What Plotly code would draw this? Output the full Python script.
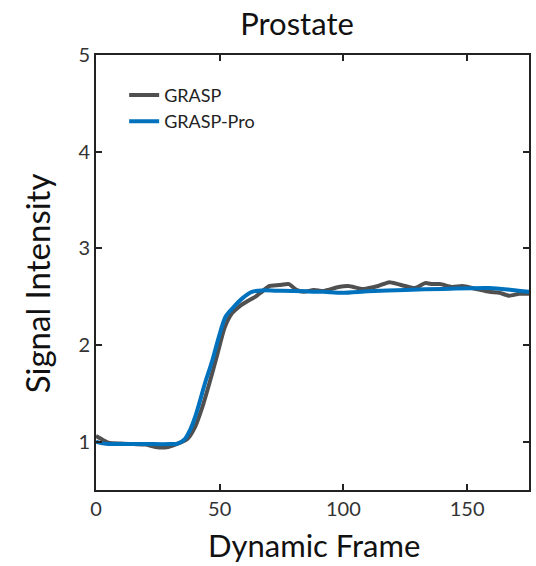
import plotly.graph_objects as go

# GRASP (gray) curve
grasp_x = [0, 2, 5, 10, 15, 20, 24, 28, 31, 34, 37, 40, 43, 46, 49, 52, 55, 58, 61, 64.5, 67, 70, 74, 78, 81, 84, 88, 92, 98, 102, 108, 114, 118.5, 122, 125, 129, 133, 136, 139, 144, 148, 153.6, 159, 163, 167, 171, 175]
grasp_y = [1.06, 1.03, 0.99, 0.98, 0.975, 0.97, 0.945, 0.94, 0.96, 0.99, 1.03, 1.15, 1.36, 1.62, 1.9, 2.18, 2.33, 2.4, 2.45, 2.5, 2.55, 2.61, 2.62, 2.63, 2.57, 2.55, 2.57, 2.56, 2.6, 2.61, 2.58, 2.61, 2.65, 2.63, 2.61, 2.59, 2.64, 2.63, 2.63, 2.6, 2.61, 2.58, 2.55, 2.54, 2.51, 2.53, 2.53]

# GRASP-Pro (blue) curve
pro_x = [0, 2, 5, 10, 20, 30, 33, 36, 38, 40, 42, 44, 47, 49.6, 52.3, 55, 59, 63, 67, 75, 85, 92, 99.5, 110, 125, 140, 159, 168, 175]
pro_y = [1.0, 0.985, 0.976, 0.975, 0.975, 0.975, 0.98, 1.03, 1.12, 1.25, 1.42, 1.6, 1.84, 2.08, 2.29, 2.375, 2.48, 2.55, 2.565, 2.56, 2.555, 2.55, 2.54, 2.555, 2.57, 2.58, 2.59, 2.57, 2.55]

x_ticks = [0, 50, 100, 150]
y_ticks = [1, 2, 3, 4, 5]

FONT = "Lato"
W, H = 536, 566

fig = go.Figure()
fig.add_trace(go.Scatter(x=grasp_x, y=grasp_y, mode="lines", name="GRASP",
                         line=dict(color="#505050", width=4, shape="spline", smoothing=0.6)))
fig.add_trace(go.Scatter(x=pro_x, y=pro_y, mode="lines", name="GRASP-Pro",
                         line=dict(color="#0072BD", width=4, shape="spline", smoothing=0.8)))

axis_common = dict(showline=True, linecolor="#222222", linewidth=2, mirror="ticks",
                   ticks="inside", ticklen=6, tickwidth=2, tickcolor="#222222",
                   showgrid=False, zeroline=False,
                   tickfont=dict(family=FONT, size=20, color="#333333"))

fig.update_layout(
    width=W, height=H,
    margin=dict(l=96, r=5, t=55, b=76),
    paper_bgcolor="white", plot_bgcolor="white",
    title=dict(text="Prostate", x=297/W, xanchor="center", y=1-24/H, yanchor="middle",
               font=dict(family=FONT, size=31, color="#111111")),
    xaxis=dict(range=[0, 175], tickvals=x_ticks, **axis_common),
    yaxis=dict(range=[0.5, 5], tickvals=y_ticks, **axis_common),
    legend=dict(x=0.065, y=0.95, xanchor="left", yanchor="top", bgcolor="rgba(0,0,0,0)",
                font=dict(family=FONT, size=18, color="#222222"), itemwidth=30),
    showlegend=True,
)

fig.add_annotation(text="Dynamic Frame", xref="paper", yref="paper",
                   x=(315 - 96) / (W - 101), y=-(545 - 490) / (H - 131),
                   xanchor="center", yanchor="middle", showarrow=False,
                   font=dict(family=FONT, size=31, color="#111111"))
fig.add_annotation(text="Signal Intensity", xref="paper", yref="paper",
                   x=-(96 - 37) / (W - 101), y=(490 - 283) / (H - 131),
                   xanchor="center", yanchor="middle", showarrow=False, textangle=-90,
                   font=dict(family=FONT, size=33, color="#111111"))

fig.write_html("out.html")
